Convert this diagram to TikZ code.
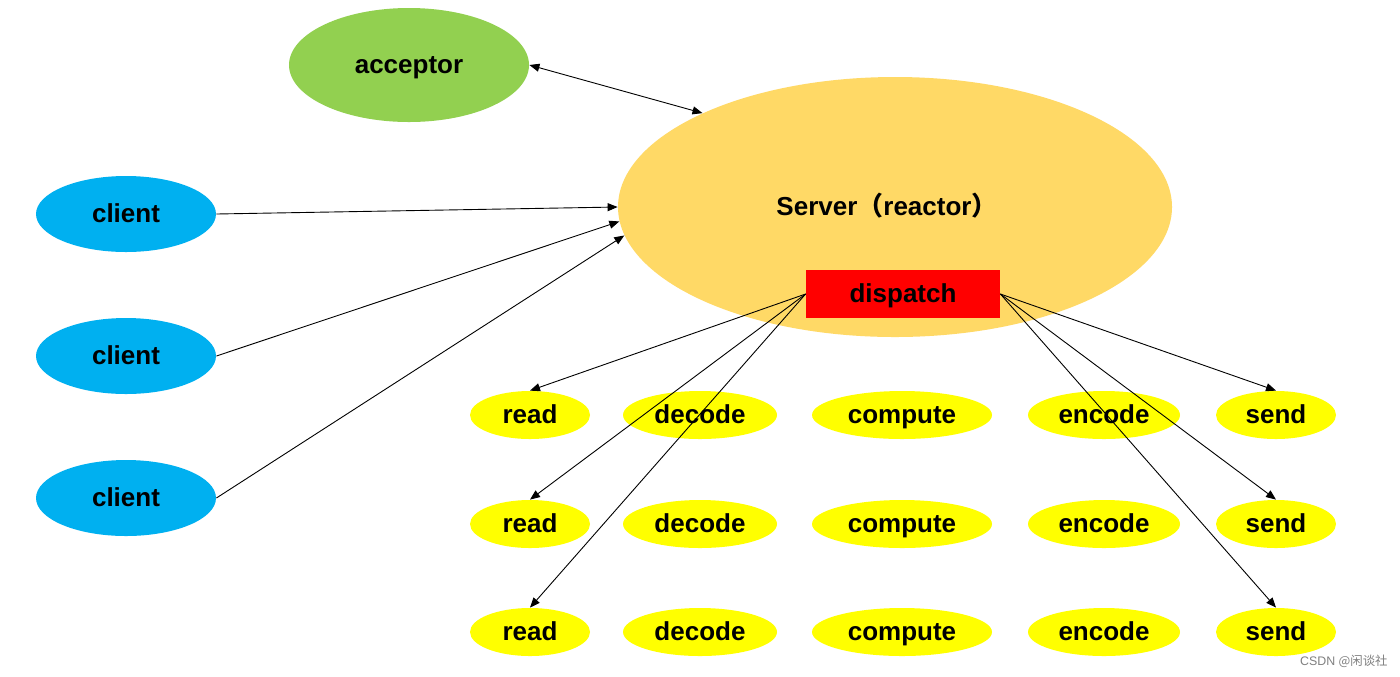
\documentclass[tikz,border=0pt]{standalone}
\usepackage{fontspec}
\setmainfont{Liberation Sans}
\newfontfamily\cjk{Noto Sans CJK SC}
\usetikzlibrary{arrows.meta,shapes.geometric}
\definecolor{accgreen}{HTML}{92D050}
\definecolor{srvorange}{HTML}{FFD966}
\definecolor{cliblue}{HTML}{00B0F0}
\definecolor{taskyellow}{HTML}{FFFF00}
\definecolor{disred}{HTML}{FF0000}
\begin{document}
\begin{tikzpicture}[x=0.5pt,y=-0.5pt,
  lbl/.style={font=\fontsize{13}{15}\selectfont\bfseries, text=black, text height=1.9ex, text depth=0.3ex},
  ell/.style={ellipse, draw=none, inner sep=0pt, lbl},
  acc/.style={ell, fill=accgreen, minimum width=120pt, minimum height=57pt},
  srv/.style={ell, fill=srvorange, minimum width=277pt, minimum height=130pt},
  cli/.style={ell, fill=cliblue, minimum width=90pt, minimum height=38pt},
  task/.style={ell, fill=taskyellow, minimum height=24pt},
  conn/.style={draw=black, line width=0.45pt, -{Triangle[length=5pt,width=4pt]}},
  bconn/.style={draw=black, line width=0.45pt, {Triangle[length=5pt,width=4pt]}-{Triangle[length=5pt,width=4pt]}}
]
\useasboundingbox (0,0) rectangle (1400,676);
\fill[white] (0,0) rectangle (1400,676);

\node[acc] (acc) at (409,65) {acceptor};
\node[srv] (srv) at (895,207) {};
\node[lbl] (srvtext) at (887,207) {Server{\cjk\bfseries （}reactor{\cjk\bfseries ）}};
\node[rectangle, fill=disred, minimum width=97pt, minimum height=24pt, inner sep=0pt, lbl] (disp) at (903,294) {dispatch};

\node[cli] (c1) at (126,214) {client};
\node[cli] (c2) at (126,356) {client};
\node[cli] (c3) at (126,498) {client};

\foreach \r/\y in {1/415,2/524,3/632}{
  \node[task, minimum width=60pt] (read\r) at (530,\y) {read};
  \node[task, minimum width=77pt] (decode\r) at (700,\y) {decode};
  \node[task, minimum width=90pt] (compute\r) at (902,\y) {compute};
  \node[task, minimum width=76pt] (encode\r) at (1104,\y) {encode};
  \node[task, minimum width=60pt] (send\r) at (1276,\y) {send};
}

\draw[bconn] (acc.east) -- (srv.154.3);
\draw[conn] (c1.east) -- (srv.180);
\draw[conn] (c2.east) -- (srv.183.5);
\draw[conn] (c3.east) -- (srv.186.5);

\foreach \r in {1,2,3}{
  \draw[conn] (disp.west) -- (read\r.north);
  \draw[conn] (disp.east) -- (send\r.north);
}

\node[text=gray, font=\fontsize{6.2}{7}\selectfont, anchor=east, inner sep=0pt] (wm) at (1388,661) {CSDN {\cjk @闲谈社}};
\end{tikzpicture}
\end{document}
